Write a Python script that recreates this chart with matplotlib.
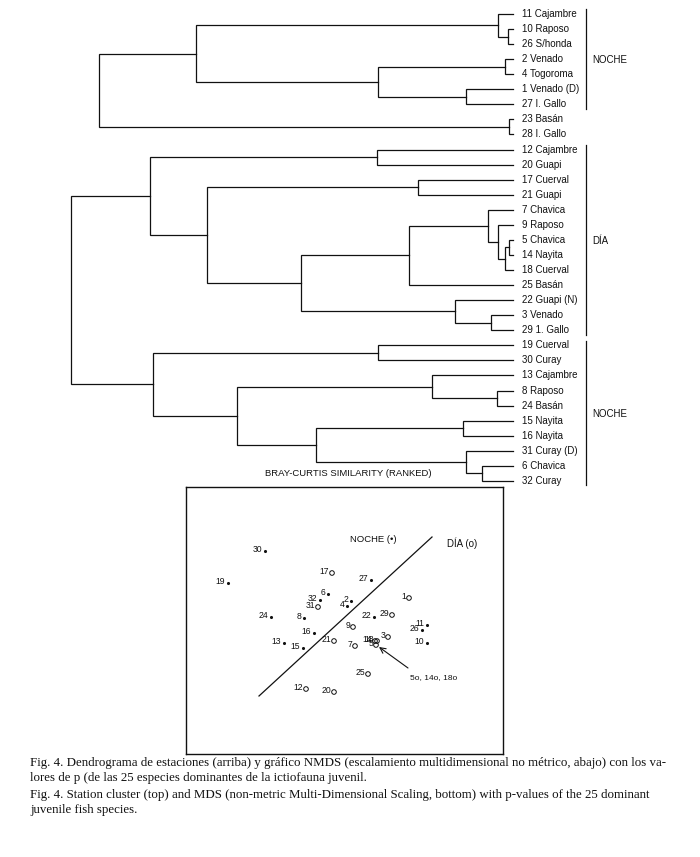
import matplotlib
matplotlib.use("Agg")
import matplotlib.pyplot as plt

# dendrogram trees: (height, left, right); leaves are station labels
# height = dissimilarity (0 at the leaves, 100 at the root)
top_tree = (93.7,
            (71.7,
             (3.4, "11 Cajambre", (1.1, "10 Raposo", "26 S/honda")),
             (30.5, (1.8, "2 Venado", "4 Togoroma"),
              (10.6, "1 Venado (D)", "27 I. Gallo"))),
            (0.9, "23 Basán", "28 I. Gallo"))

main_tree = (100.0,
             (82.1,
              (30.8, "12 Cajambre", "20 Guapi"),
              (69.2,
               (21.5, "17 Cuerval", "21 Guapi"),
               (48.0,
                (23.5,
                 (5.7, "7 Chavica",
                  (3.4, "9 Raposo",
                   (1.8, (0.9, "5 Chavica", "14 Nayita"), "18 Cuerval"))),
                 "25 Basán"),
                (13.1, "22 Guapi (N)", (5.0, "3 Venado", "29 1. Gallo"))))),
             (81.4,
              (30.5, "19 Cuerval", "30 Curay"),
              (62.4,
               (18.3, "13 Cajambre", (3.6, "8 Raposo", "24 Basán")),
               (44.6,
                (11.3, "15 Nayita", "16 Nayita"),
                (10.6, "31 Curay (D)", (7.0, "6 Chavica", "32 Curay"))))))

# groups: (first leaf, last leaf, name)
groups = [(0, 6, "NOCHE"), (9, 21, "DÍA"), (22, 31, "NOCHE")]

# NMDS ordination
st_night = ["30", "19", "27", "6", "32", "2", "4", "24", "8", "22", "11", "26",
            "16", "13", "15", "10"]
x_night = [-0.80, -1.17, 0.26, -0.17, -0.25, 0.06, 0.02, -0.74, -0.41, 0.29,
           0.82, 0.77, -0.31, -0.61, -0.42, 0.82]
y_night = [0.69, 0.37, 0.40, 0.26, 0.20, 0.19, 0.14, 0.03, 0.02, 0.03,
           -0.05, -0.10, -0.13, -0.23, -0.28, -0.23]

st_day = ["17", "31", "1", "29", "9", "21", "7", "3", "14", "18", "5", "25",
          "12", "20"]
x_day = [-0.13, -0.27, 0.64, 0.47, 0.08, -0.11, 0.10, 0.43, 0.30, 0.32, 0.31,
         0.23, -0.39, -0.11]
y_day = [0.47, 0.13, 0.22, 0.05, -0.07, -0.21, -0.26, -0.17, -0.21, -0.21,
         -0.25, -0.54, -0.69, -0.72]

divider_x = [-0.86, 0.87]
divider_y = [-0.76, 0.83]

INK = "#111111"
SANS = "Liberation Sans"

fig = plt.figure(figsize=(7.0, 8.57), dpi=100)

# ---------------- dendrogram ----------------
ax = fig.add_axes([71 / 700, 1 - 486 / 857, 442 / 700, 486 / 857])
ax.set_xlim(100, 0)
ax.set_ylim(31.34, -0.93)
ax.axis("off")

leaf_count = [0]


def draw(node):
    if isinstance(node, str):
        y = leaf_count[0]
        leaf_count[0] += 1
        ax.text(-2.0, y, node, ha="left", va="center", fontsize=7,
                family=SANS, color=INK, clip_on=False)
        return y, 0.0
    h, left, right = node
    y1, h1 = draw(left)
    y2, h2 = draw(right)
    ax.plot([h1, h, h, h2], [y1, y1, y2, y2], color=INK, lw=0.9,
            solid_joinstyle="miter", clip_on=False)
    return (y1 + y2) / 2, h


draw(top_tree)
draw(main_tree)

for first, last, name in groups:
    ax.plot([-16.6, -16.6], [first - 0.3, last + 0.3], color=INK, lw=0.9,
            clip_on=False)
    ax.text(-18.0, (first + last) / 2 + 0.05, name, ha="left", va="center",
            fontsize=7, family=SANS, color=INK, clip_on=False)

ax.text(37.3, 30.5, "BRAY-CURTIS SIMILARITY (RANKED)", ha="center",
        va="center", fontsize=6.8, family=SANS, color=INK)

# ---------------- NMDS ----------------
bx = fig.add_axes([186 / 700, 1 - 754 / 857, 317 / 700, 267 / 857])
bx.set_xlim(-1.59, 1.58)
bx.set_ylim(-1.34, 1.33)
bx.set_xticks([])
bx.set_yticks([])
for s in bx.spines.values():
    s.set_color(INK)
    s.set_linewidth(1.0)

bx.plot(divider_x, divider_y, color=INK, lw=0.9)

bx.scatter(x_night, y_night, s=5, color=INK, marker="o", linewidths=0)
bx.scatter(x_day, y_day, s=11, facecolors="none", edgecolors=INK,
           marker="o", linewidths=0.7)

for lab, x, y in zip(st_night + st_day, x_night + x_day, y_night + y_day):
    bx.annotate(lab, (x, y), xytext=(-2.0, 1.2), textcoords="offset points",
                ha="right", va="center", fontsize=6.2, family=SANS, color=INK)

bx.text(0.28, 0.80, "NOCHE (•)", ha="center", va="center", fontsize=6.8,
        family=SANS, color=INK)
bx.text(1.17, 0.77, "DÍA (o)", ha="center", va="center", fontsize=7,
        family=SANS, color=INK)

bx.annotate("", xy=(0.34, -0.27), xytext=(0.63, -0.48),
            arrowprops=dict(arrowstyle="->", color=INK, lw=0.8,
                            shrinkA=0, shrinkB=0))
bx.text(0.65, -0.58, "5o, 14o, 18o", ha="left", va="center", fontsize=6,
        family=SANS, color=INK)

# ---------------- caption ----------------
caption = [
    "Fig. 4. Dendrograma de estaciones (arriba) y gráfico NMDS (escalamiento "
    "multidimensional no métrico, abajo) con los va-",
    "lores de p (de las 25 especies dominantes de la ictiofauna juvenil.",
    "Fig. 4. Station cluster (top) and MDS (non-metric Multi-Dimensional "
    "Scaling, bottom) with p-values of the 25 dominant",
    "juvenile fish species.",
]
caption_y = [763, 778, 795, 810]
for line, py in zip(caption, caption_y):
    fig.text(30 / 700, 1 - py / 857, line, ha="left", va="center",
             fontsize=9.3, family="Liberation Serif", color=INK)

fig.savefig("out.png", dpi=100, facecolor="white")
